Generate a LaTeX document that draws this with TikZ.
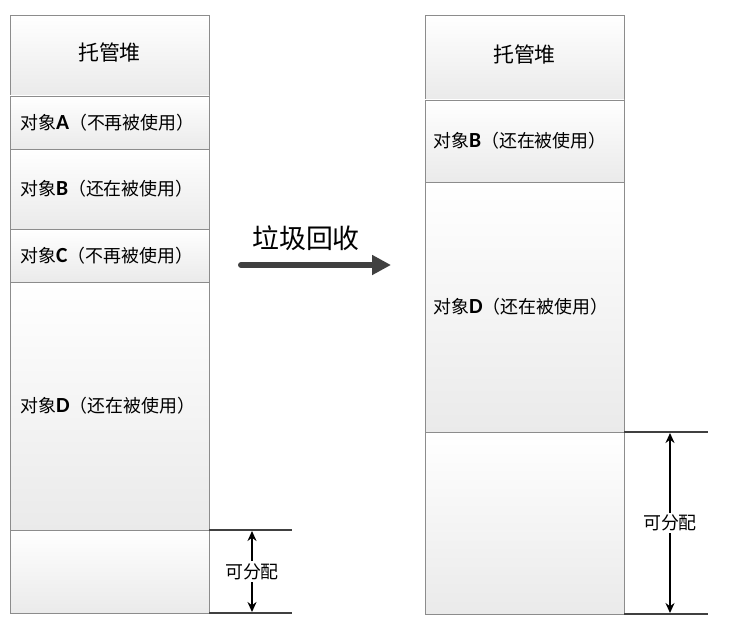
\documentclass[tikz,border=0pt]{standalone}
\usepackage{fontspec}
\setmainfont{Noto Sans CJK SC}
\newfontfamily\latfont{Carlito}[Scale=1.2]
\usepackage{tikz}
\usetikzlibrary{arrows.meta,positioning,calc}
\definecolor{boxgray}  {RGB}{140,140,140}
\definecolor{shadegray}{RGB}{234,234,234}
\definecolor{lingray}  {RGB}{64,64,64}

% object label: CJK text with a bold latin letter
\newcommand{\objname}[1]{对象{\latfont\bfseries #1}}

\begin{document}
\begin{tikzpicture}[
  x=1bp, y=-1bp, >=Stealth,
  cell/.style={draw=boxgray, line width=0.9bp, top color=white, bottom color=shadegray,
    minimum width=199bp, inner sep=0pt, outer sep=0pt},
  celltxt/.style={font=\fontsize{18}{20}\selectfont, anchor=west, inner sep=0pt},
  heaptxt/.style={font=\fontsize{21}{23}\selectfont, inner sep=0pt},
  dimline/.style={draw=lingray, line width=2bp},
  dimarrow/.style={<->, line width=1.8bp, >={Stealth[length=10bp, width=9bp]}},
  dimtxt/.style={font=\fontsize{18}{20}\selectfont, fill=white, inner sep=2bp},
]
\useasboundingbox (0,0) rectangle (731,628);

% Left heap (before)
\node[cell, minimum height=81bp, anchor=north west] (heapL) at (10,15) {};
\node[cell, minimum height=53bp,  below=0pt of heapL] (objA) {};
\node[cell, minimum height=80bp,  below=0pt of objA]  (objB) {};
\node[cell, minimum height=53bp,  below=0pt of objB]  (objC) {};
\node[cell, minimum height=248bp, below=0pt of objC]  (objD) {};
\node[cell, minimum height=83bp,  below=0pt of objD]  (freeL) {};

\node[heaptxt] (heapLtxt) at ([yshift=3bp]heapL.center) {托管堆};
\node[celltxt] (objAtxt) at ([xshift=10bp]objA.west) {\objname{A}（不再被使用）};
\node[celltxt] (objBtxt) at ([xshift=10bp]objB.west) {\objname{B}（还在被使用）};
\node[celltxt] (objCtxt) at ([xshift=10bp]objC.west) {\objname{C}（不再被使用）};
\node[celltxt] (objDtxt) at ([xshift=10bp]objD.west) {\objname{D}（还在被使用）};

% Right heap (after)
\node[cell, minimum height=85bp, anchor=north west] (heapR) at (425,15) {};
\node[cell, minimum height=82bp,  below=0pt of heapR] (objBR) {};
\node[cell, minimum height=250bp, below=0pt of objBR] (objDR) {};
\node[cell, minimum height=182bp, below=0pt of objDR] (freeR) {};

\node[heaptxt] (heapRtxt) at ([yshift=3bp]heapR.center) {托管堆};
\node[celltxt] (objBRtxt) at ([xshift=8bp]objBR.west) {\objname{B}（还在被使用）};
\node[celltxt] (objDRtxt) at ([xshift=8bp]objDR.west) {\objname{D}（还在被使用）};

% free space markers
\coordinate (endLt) at ($(freeL.north east)+(83,0)$);
\coordinate (endLb) at ($(freeL.south east)+(83,0)$);
\draw[dimline] (freeL.north east) -- (endLt);
\draw[dimline] (freeL.south east) -- (endLb);
\coordinate (aLt) at ($(freeL.north east)+(43,1)$);
\coordinate (aLb) at ($(freeL.south east)+(43,-1)$);
\draw[dimarrow] (aLt) -- node[dimtxt] (freeLtxt) {可分配} (aLb);

\coordinate (endRt) at ($(freeR.north east)+(84,0)$);
\coordinate (endRb) at ($(freeR.south east)+(84,0)$);
\draw[dimline] (freeR.north east) -- (endRt);
\draw[dimline] (freeR.south east) -- (endRb);
\coordinate (aRt) at ($(freeR.north east)+(46,1)$);
\coordinate (aRb) at ($(freeR.south east)+(46,-1)$);
\draw[dimarrow] (aRt) -- node[dimtxt] (freeRtxt) {可分配} (aRb);

% garbage collection arrow
\coordinate (gcStart) at (241,265);
\coordinate (gcEnd)   at (391,265);
\draw[draw=lingray, line width=6bp, line cap=round,
  -{Triangle[length=19bp, width=19bp, fill=lingray]}] (gcStart) -- (gcEnd);
\node[font=\fontsize{27}{30}\selectfont, inner sep=0pt] (gctxt) at (306,238) {垃圾回收};

\end{tikzpicture}
\end{document}
